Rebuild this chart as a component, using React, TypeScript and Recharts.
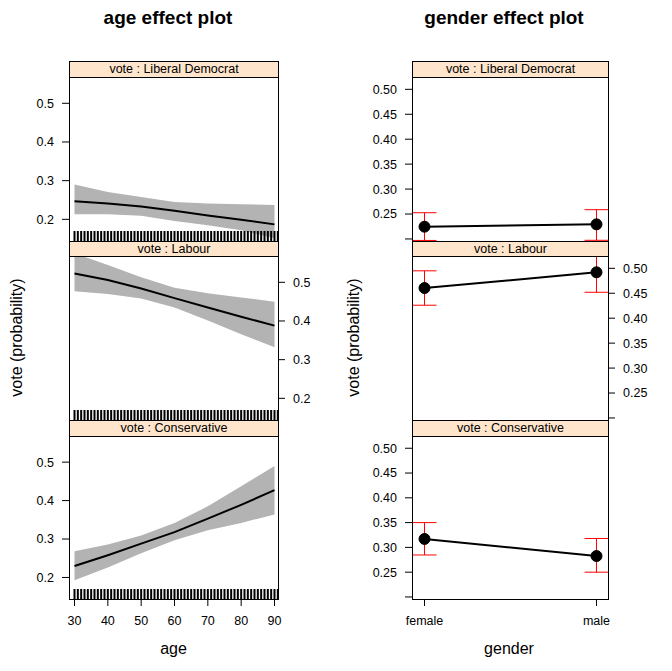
import React from 'react';
import { ComposedChart, Line, Area, XAxis, YAxis, ErrorBar } from 'recharts';

// ---------- data ----------
const ages = [30, 40, 50, 60, 70, 80, 90];
const ldFit = [0.247, 0.241, 0.233, 0.222, 0.21, 0.199, 0.187];
const ldLower = [0.213, 0.213, 0.209, 0.196, 0.185, 0.172, 0.151];
const ldUpper = [0.29, 0.271, 0.258, 0.245, 0.241, 0.239, 0.237];
const labFit = [0.523, 0.506, 0.484, 0.459, 0.435, 0.411, 0.388];
const labLower = [0.477, 0.47, 0.458, 0.435, 0.401, 0.366, 0.332];
const labUpper = [0.575, 0.545, 0.513, 0.486, 0.472, 0.461, 0.45];
const conFit = [0.23, 0.258, 0.288, 0.318, 0.353, 0.389, 0.427];
const conLower = [0.193, 0.226, 0.263, 0.297, 0.323, 0.342, 0.364];
const conUpper = [0.268, 0.286, 0.309, 0.342, 0.385, 0.437, 0.49];
const rugAges = [30, 31, 32, 33, 34, 35, 36, 37, 38, 39, 40, 41, 42, 43, 44, 45, 46, 47, 48, 49, 50, 51, 52, 53, 54, 55, 56, 57, 58, 59, 60, 61, 62, 63, 64, 65, 66, 67, 68, 69, 70, 71, 72, 73, 74, 75, 76, 77, 78, 79, 80, 81, 82, 83, 84, 85, 86, 87, 88, 89, 90, 91];

const genders = ['female', 'male'];
const genderCodes = [1, 2];
const gLdFit = [0.2246, 0.2293];
const gLdLower = [0.197, 0.1973];
const gLdUpper = [0.2526, 0.2587];
const gLabFit = [0.4605, 0.492];
const gLabLower = [0.426, 0.452];
const gLabUpper = [0.495, 0.532];
const gConFit = [0.317, 0.2826];
const gConLower = [0.2847, 0.25];
const gConUpper = [0.35, 0.318];

const panelNames = ['vote : Liberal Democrat', 'vote : Labour', 'vote : Conservative'];
const ageTicks = [30, 40, 50, 60, 70, 80, 90];
const ageYTicks = [0.2, 0.3, 0.4, 0.5];
const genderYTicks = [0.2, 0.25, 0.3, 0.35, 0.4, 0.45, 0.5];
const genderYLabelled = [0.25, 0.3, 0.35, 0.4, 0.45, 0.5];

// ---------- layout ----------
const FONT = '"Liberation Sans", Arial, Helvetica, sans-serif';
const ROWS = [
  { stripTop: 61, plotTop: 77, plotH: 164 },
  { stripTop: 241, plotTop: 256, plotH: 164 },
  { stripTop: 420, plotTop: 436, plotH: 163 },
];
const LEFT = { x: 69, w: 209, xDomain: [28.35, 91.05], yDomain: [0.144, 0.568] };
const RIGHT = { x: 412, w: 196, xDomain: [0.9273, 2.0669], yDomain: [0.1959, 0.5247] };
const AXW = 40;
const TOPH = 30;
const BOTH = 40;

const ageSets = [
  [ldFit, ldLower, ldUpper],
  [labFit, labLower, labUpper],
  [conFit, conLower, conUpper],
];
const genderSets = [
  [gLdFit, gLdLower, gLdUpper],
  [gLabFit, gLabLower, gLabUpper],
  [gConFit, gConLower, gConUpper],
];

const tickStyle = { fill: 'black', fontSize: 12.5, fontFamily: FONT };

function RugMark(props: any) {
  const { cx, cy } = props;
  if (cx == null || cy == null) return null;
  return <line x1={cx} x2={cx} y1={cy} y2={cy - 10} stroke="black" strokeWidth={2} />;
}

function panelChart(kind: 'age' | 'gender', r: number) {
  const col = kind === 'age' ? LEFT : RIGHT;
  const row = ROWS[r];
  const isTop = r === 0;
  const isBottom = r === 2;
  const isMid = r === 1;
  const yTicks = kind === 'age' ? ageYTicks : genderYTicks;
  const yFmt = (v: number) => {
    if (kind === 'age') return v.toFixed(1);
    return genderYLabelled.some((t) => Math.abs(t - v) < 1e-9) ? v.toFixed(2) : '';
  };
  const xTicks = kind === 'age' ? ageTicks : genderCodes;
  const xFmt = (v: number) => {
    if (kind === 'age') return String(v);
    const i = genderCodes.indexOf(v);
    return i >= 0 ? genders[i] : '';
  };

  const series: any[] = [];
  if (kind === 'age') {
    const [fit, lo, hi] = ageSets[r];
    const data = ages.map((a, i) => ({ x: a, fit: fit[i], band: [lo[i], hi[i]] }));
    const rug = rugAges.map((a) => ({ x: a, rug: col.yDomain[0] }));
    series.push(
      <Area key="band" data={data} dataKey="band" xAxisId="b" yAxisId="l" type="linear"
        fill="#b3b3b3" fillOpacity={1} stroke="none" isAnimationActive={false} dot={false} activeDot={false} />,
      <Line key="fit" data={data} dataKey="fit" xAxisId="b" yAxisId="l" type="linear"
        stroke="black" strokeWidth={2} dot={false} activeDot={false} isAnimationActive={false} />,
      <Line key="rug" data={rug} dataKey="rug" xAxisId="b" yAxisId="l" stroke="none"
        dot={<RugMark />} activeDot={false} isAnimationActive={false} />
    );
  } else {
    const [fit, lo, hi] = genderSets[r];
    const data = genderCodes.map((g, i) => ({ x: g, fit: fit[i], err: [fit[i] - lo[i], hi[i] - fit[i]] }));
    series.push(
      <Line key="fit" data={data} dataKey="fit" xAxisId="b" yAxisId="l" type="linear"
        stroke="black" strokeWidth={2}
        dot={{ r: 5.5, fill: 'black', stroke: 'black', strokeWidth: 1 }}
        activeDot={false} isAnimationActive={false}>
        <ErrorBar dataKey="err" direction="y" width={12} stroke="red" strokeWidth={1} isAnimationActive={false} />
      </Line>
    );
  }

  const W = col.w + 2 * AXW;
  const H = row.plotH + TOPH + BOTH;
  return (
    <div key={kind + r} style={{ position: 'absolute', left: col.x - AXW, top: row.plotTop - TOPH, width: W, height: H }}>
      <ComposedChart width={W} height={H} margin={{ top: 0, right: 0, bottom: 0, left: 0 }}>
        <XAxis xAxisId="b" dataKey="x" type="number" orientation="bottom" height={BOTH}
          domain={col.xDomain} allowDataOverflow ticks={xTicks} interval={0}
          tickFormatter={isBottom ? xFmt : () => ''}
          axisLine={false} tickLine={isBottom ? { stroke: 'black' } : false}
          tickSize={7} tickMargin={10} tick={isBottom ? tickStyle : false} stroke="black" />
        <XAxis xAxisId="t" dataKey="x" type="number" orientation="top" height={TOPH}
          domain={col.xDomain} allowDataOverflow ticks={xTicks} interval={0}
          tickFormatter={() => ''}
          axisLine={false} tickLine={isTop ? { stroke: 'black' } : false}
          tickSize={23} tick={false} stroke="black" />
        <YAxis yAxisId="l" type="number" orientation="left" width={AXW}
          domain={col.yDomain} allowDataOverflow ticks={yTicks} interval={0}
          tickFormatter={isMid ? () => '' : yFmt}
          axisLine={false} tickLine={{ stroke: 'black' }} tickSize={7} tickMargin={8}
          tick={isMid ? false : tickStyle} stroke="black" />
        <YAxis yAxisId="r" type="number" orientation="right" width={AXW}
          domain={col.yDomain} allowDataOverflow ticks={yTicks} interval={0}
          tickFormatter={isMid ? yFmt : () => ''}
          axisLine={false} tickLine={{ stroke: 'black' }} tickSize={7} tickMargin={8}
          tick={isMid ? tickStyle : false} stroke="black" />
        {series}
      </ComposedChart>
    </div>
  );
}

function frames(kind: 'age' | 'gender') {
  const col = kind === 'age' ? LEFT : RIGHT;
  return ROWS.map((row, r) => (
    <React.Fragment key={kind + 'f' + r}>
      <div style={{
        position: 'absolute', left: col.x, top: row.stripTop, width: col.w + 1,
        height: row.plotTop + row.plotH - row.stripTop + 1, border: '1px solid black',
        boxSizing: 'border-box', pointerEvents: 'none', zIndex: 2,
      }} />
      <div style={{
        position: 'absolute', left: col.x, top: row.stripTop, width: col.w + 1,
        height: row.plotTop - row.stripTop + 1, border: '1px solid black', boxSizing: 'border-box',
        background: '#ffe5cc', zIndex: 3, fontFamily: FONT, fontSize: 12.5, color: 'black',
        textAlign: 'center', lineHeight: (row.plotTop - row.stripTop - 1) + 'px', whiteSpace: 'nowrap',
      }}>{panelNames[r]}</div>
    </React.Fragment>
  ));
}

export default function App() {
  return (
    <div style={{ position: 'absolute', left: 0, top: 0, width: 672, height: 671, background: 'white', overflow: 'hidden' }}>
      {[0, 1, 2].map((r) => panelChart('age', r))}
      {[0, 1, 2].map((r) => panelChart('gender', r))}
      {frames('age')}
      {frames('gender')}
      <svg width={672} height={671} style={{ position: 'absolute', left: 0, top: 0, zIndex: 4, pointerEvents: 'none' }}>
        <g fontFamily={FONT} fill="black">
          <text x={168} y={24} textAnchor="middle" fontSize={19} fontWeight="bold">age effect plot</text>
          <text x={504} y={24} textAnchor="middle" fontSize={19} fontWeight="bold">gender effect plot</text>
          <text x={173.5} y={654} textAnchor="middle" fontSize={16}>age</text>
          <text x={509} y={654} textAnchor="middle" fontSize={16}>gender</text>
          <text transform="translate(21.5,337.5) rotate(-90)" textAnchor="middle" fontSize={16}>vote (probability)</text>
          <text transform="translate(358.5,337.5) rotate(-90)" textAnchor="middle" fontSize={16}>vote (probability)</text>
        </g>
      </svg>
    </div>
  );
}
